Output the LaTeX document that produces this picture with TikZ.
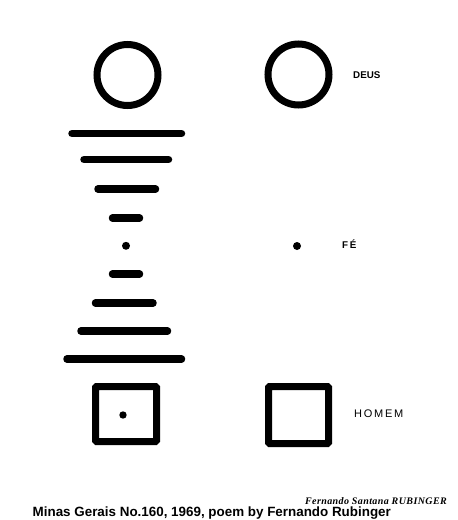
\documentclass[tikz,border=0pt]{standalone}
\usepackage{fontspec}
\newfontfamily\labelfont{Liberation Sans}
\newfontfamily\wordfont[LetterSpace=16]{Liberation Sans}
\newfontfamily\signfont[LetterSpace=4]{Liberation Serif}
\tikzset{
	ring/.style={draw, circle, line width=7pt, inner sep=0pt, minimum size=61pt},
	box/.style={draw, rectangle, line width=7pt, inner sep=0pt, rounded corners=1pt},
	bar/.style={line width=7.5pt, line cap=round},
	word/.style={anchor=west, inner sep=0pt}
}
\begin{document}
\begin{tikzpicture}[x=1pt,y=-1pt]
	\useasboundingbox (0,0) rectangle (458,520);
	\fill[white] (0,0) rectangle (458,520);
% the two columns
	\node[ring] (deusA) at (127.5,75) {};
	\node[ring] (deusB) at (298.5,74.5) {};
	\foreach \y/\a/\b in {133.5/72/181.5, 159.5/84/168.5, 189/98/155.5, 218/112.5/139.5,
		274/112.5/139.5, 303/95.5/153, 331/81/167.5, 359/67/181.5}
		\draw[bar] (\a,\y) -- (\b,\y);
	\fill (126,245.8) circle (4pt);
	\fill (297,246) circle (4pt);
	\node[box, minimum width=61pt, minimum height=55pt] (homemA) at (126,414) {};
	\node[box, minimum width=60pt, minimum height=57pt] (homemB) at (298.5,415) {};
	\fill (homemA.center) ++(-3,1) circle (3.7pt);
% words
	\node[word] (deus) at (353,75) {\labelfont\bfseries\fontsize{9.8}{10}\selectfont DEUS};
	\node[word] (fe) at (342,244) {\wordfont\bfseries\fontsize{9.8}{10}\selectfont FÉ};
	\node[word] (homem) at (354,414) {\wordfont\fontsize{11}{11}\selectfont HOMEM};
	\node[anchor=base east, inner sep=0pt] (sign) at (447,504.5)
		{\signfont\bfseries\itshape\fontsize{10}{11}\selectfont Fernando Santana RUBINGER};
	\node[anchor=base west, inner sep=0pt] (caption) at (32.5,516.5)
		{\labelfont\bfseries\fontsize{13.4}{14}\selectfont Minas Gerais No.160, 1969, poem by Fernando Rubinger};
\end{tikzpicture}
\end{document}
